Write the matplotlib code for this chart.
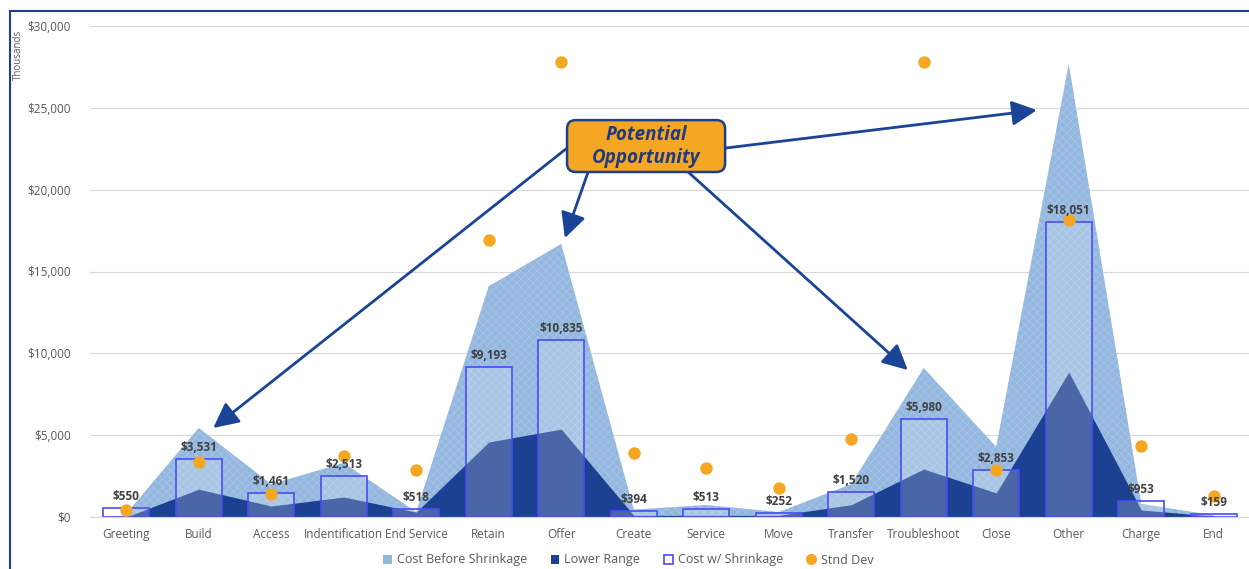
import matplotlib.pyplot as plt
from matplotlib.patches import Rectangle, Patch, FancyBboxPatch
from matplotlib.lines import Line2D
import numpy as np

plt.rcParams['font.family'] = ['Open Sans', 'DejaVu Sans']

# data (thousands of $)
categories = ['Greeting', 'Build', 'Access', 'Indentification', 'End Service', 'Retain',
              'Offer', 'Create', 'Service', 'Move', 'Transfer', 'Troubleshoot', 'Close',
              'Other', 'Charge', 'End']
cost_before = [200, 5440, 2000, 3300, 300, 14100, 16680, 450, 730, 300, 2000, 9100,
               4280, 27670, 800, 100]
lower_range = [0, 1700, 670, 1220, 300, 4580, 5370, 100, 100, 100, 750, 2930,
               1470, 8860, 430, 50]
cost_shrink = [550, 3531, 1461, 2513, 518, 9193, 10835, 394, 513, 252, 1520, 5980,
               2853, 18051, 953, 159]
std_dev = [430, 3360, 1400, 3730, 2870, 16920, 27800, 3910, 2990, 1770, 4760, 27800,
           2870, 18140, 4340, 1280]

light = '#92b6de'
dark = '#1c4192'
bar_edge = '#4b4cf5'
orange = '#f5a623'
navy = '#1c3f8f'
gray = '#595959'

fig = plt.figure(figsize=(12.49, 5.69), dpi=100)
ax = fig.add_axes([90 / 1249, 1 - 517 / 569, 1160 / 1249, 491 / 569])

x = np.arange(len(categories))

# areas
ax.fill_between(x, cost_before, color=light, lw=0, zorder=1, hatch='xxxx',
                edgecolor='#a0c0e4')
ax.fill_between(x, lower_range, color=dark, lw=0, zorder=2)

# outlined bars
ax.bar(x, cost_shrink, width=0.63, facecolor=(1, 1, 1, 0.2), edgecolor=bar_edge,
       linewidth=1.2, zorder=3)

# std dev dots
ax.scatter(x, std_dev, s=80, color=orange, zorder=5, linewidths=0)

# data labels
for i, v in enumerate(cost_shrink):
    ax.text(i, v + 300, '${:,}'.format(v), ha='center', va='bottom', fontsize=8.5,
            color='#404040', fontweight='bold', zorder=6)

ax.set_xlim(-0.5, len(categories) - 0.5)
ax.set_ylim(0, 30000)
ax.set_yticks(np.arange(0, 30001, 5000))
ax.set_yticklabels(['${:,}'.format(t) for t in range(0, 30001, 5000)])
ax.set_xticks(x)
ax.set_xticklabels(categories)
ax.tick_params(length=0, labelsize=8.5, colors=gray, pad=8)
ax.tick_params(axis='y', pad=14)
ax.grid(axis='y', color='#d9d9d9', lw=0.9, zorder=0)
ax.set_axisbelow(True)
for s in ['top', 'right', 'left']:
    ax.spines[s].set_visible(False)
ax.spines['bottom'].set_color('#d9d9d9')

fig.text(18 / 1249, 1 - 55 / 569, 'Thousands', rotation=90, ha='center', va='center',
         fontsize=7, color=gray)

# annotation box and arrows
box = FancyBboxPatch((6.08, 21080), 2.18, 3170,
                     boxstyle='round,pad=0,rounding_size=0.12', mutation_aspect=4400,
                     fc=orange, ec=navy, lw=1.8, zorder=8)
ax.add_patch(box)
ax.text(7.17, 22660, 'Potential\nOpportunity', ha='center', va='center', fontsize=13.5,
        fontweight='bold', style='italic', color='#1f3a80', zorder=9,
        linespacing=1.2)

arrows = [((6.08, 22540), (1.2, 5440)),
          ((6.37, 21080), (6.05, 17040)),
          ((7.75, 21080), (10.78, 8980)),
          ((8.26, 22540), (12.56, 24860))]
for start, end in arrows:
    ax.annotate('', xy=end, xytext=start, zorder=7,
                arrowprops=dict(arrowstyle='-|>,head_length=0.9,head_width=0.45',
                                color='#1a4496', lw=2, mutation_scale=17,
                                shrinkA=0, shrinkB=0))

# legend
handles = [Patch(facecolor=light, edgecolor='none'),
           Patch(facecolor=dark, edgecolor='none'),
           Patch(facecolor='white', edgecolor=bar_edge, lw=1.2),
           Line2D([], [], marker='o', ls='none', color=orange, markersize=7)]
labels = ['Cost Before Shrinkage', 'Lower Range', 'Cost w/ Shrinkage', 'Stnd Dev']
fig.legend(handles, labels, loc='center', bbox_to_anchor=(628 / 1249, 1 - 560 / 569),
           ncol=4, frameon=False, fontsize=9, labelcolor=gray, handlelength=0.7,
           handleheight=0.7, handletextpad=0.4, columnspacing=1.9)

# outer frame
fig.add_artist(Rectangle((10 / 1249, -0.05), 1.1, 1 - 11 / 569 + 0.05,
                         transform=fig.transFigure, fill=False, ec=navy, lw=1.5))

fig.savefig('out.png', dpi=100)
